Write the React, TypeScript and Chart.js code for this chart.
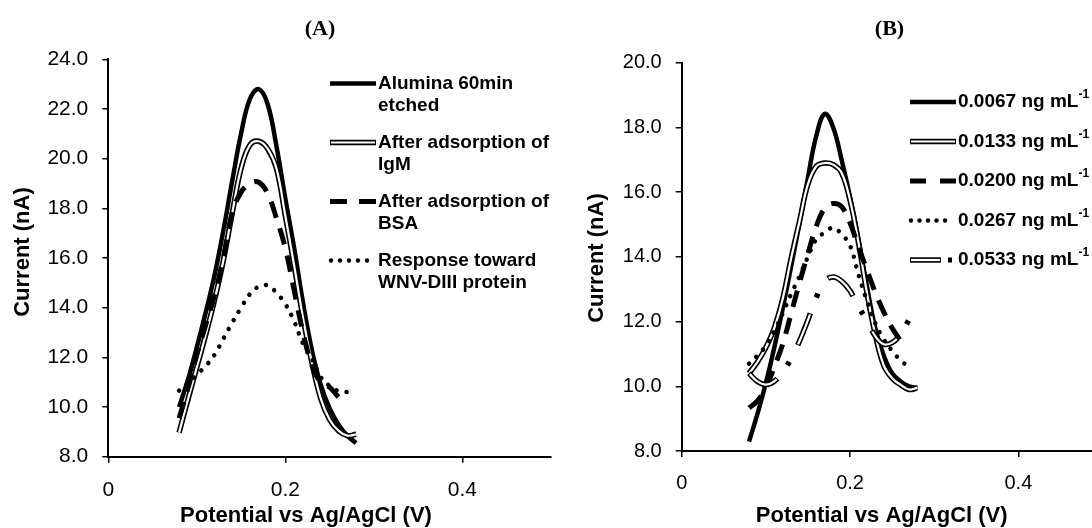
import React, { useEffect, useRef } from 'react';
import { Chart, registerables } from 'chart.js';

Chart.register(...registerables);

// ---------- Panel (A) data ----------
const potentialA = [0.08, 0.09, 0.10, 0.11, 0.12, 0.13, 0.14, 0.15, 0.16, 0.17, 0.18, 0.19, 0.20, 0.21, 0.22, 0.23, 0.24, 0.25, 0.26, 0.27, 0.28];
const aluminaEtched = [10.0, 11.1, 12.4, 13.8, 15.3, 17.1, 19.1, 21.0, 22.4, 22.8, 22.2, 20.5, 18.4, 16.4, 14.2, 12.3, 10.9, 9.95, 9.3, 8.85, 8.55];
const afterIgM = [8.97, 10.3, 11.6, 12.9, 14.3, 15.9, 17.8, 19.6, 20.55, 20.7, 20.4, 19.6, 17.7, 15.7, 13.6, 11.8, 10.35, 9.5, 9.05, 8.85, 8.9];
const afterBSA = [9.55, 10.75, 12.1, 13.3, 14.5, 16.0, 17.8, 18.65, 19.0, 19.05, 18.6, 17.6, 16.4, 14.7, 13.0, 11.7, 11.0, 10.8, 10.4];
const wnvResponse = [10.66, 10.95, 11.3, 11.65, 12.1, 12.75, 13.4, 14.0, 14.55, 14.85, 14.9, 14.6, 14.15, 13.45, 12.55, 11.95, 11.2, 10.85, 10.65, 10.6];

// ---------- Panel (B) data ----------
const potentialB = [0.08, 0.09, 0.10, 0.11, 0.12, 0.13, 0.14, 0.15, 0.16, 0.17, 0.18, 0.19, 0.20, 0.21, 0.22, 0.23, 0.24, 0.25, 0.26, 0.27, 0.28];
const conc0067 = [8.29, 9.15, 10.1, 11.2, 12.4, 13.7, 15.05, 16.45, 17.75, 18.42, 18.0, 17.0, 15.85, 14.55, 13.1, 11.8, 10.95, 10.4, 10.15, 10.0, 9.95];
const conc0133 = [10.4, 10.75, 11.2, 11.8, 12.7, 13.95, 15.1, 16.25, 16.8, 16.9, 16.85, 16.6, 15.75, 14.45, 12.9, 11.6, 10.65, 10.25, 10.05, 9.9, 9.95];
const conc0200 = [9.33, 9.55, 9.95, 10.6, 11.3, 12.25, 13.2, 14.1, 14.95, 15.5, 15.65, 15.55, 15.05, 14.3, 13.6, 12.9, 12.3, 11.8, 11.4];
const conc0267 = [10.7, 10.95, 11.25, 11.7, 12.25, 12.85, 13.4, 14.0, 14.55, 14.75, 14.9, 14.7, 14.35, 13.45, 12.65, 11.95, 11.45, 11.1, 10.8, 10.6];
const conc0533 = [10.4, 10.15, 10.05, 10.15, 10.45, 10.85, 11.4, 12.05, 12.75, 13.25, 13.38, 13.25, 12.95, 12.45, 12.05, 11.55, 11.3, 11.35, 11.6, 12.05, 12.5];

// ---------- Axis / labels ----------
const xTickValues = [0, 0.2, 0.4];
const xAxisTitle = 'Potential vs Ag/AgCl (V)';
const yAxisTitle = 'Current (nA)';
const titleA = '(A)';
const titleB = '(B)';
const legendA = [
  ['Alumina 60min', 'etched'],
  ['After adsorption of', 'IgM'],
  ['After adsorption of', 'BSA'],
  ['Response toward', 'WNV-DIII protein'],
];
const legendB = ['0.0067 ng mL', '0.0133 ng mL', '0.0200 ng mL', '0.0267 ng mL', '0.0533 ng mL'];
const legendBSup = '-1';

const FONT = '"Liberation Sans", Arial, sans-serif';

function pts(xs: number[], ys: number[]) {
  return ys.map((y, i) => ({ x: xs[i], y }));
}

function solid(data: any[], order: number) {
  return { data, borderColor: '#000', borderWidth: 4.5, pointRadius: 0, tension: 0.4, fill: false, order };
}
function doubleLine(data: any[], order: number) {
  return [
    { data, borderColor: '#000', borderWidth: 5.5, pointRadius: 0, tension: 0.4, fill: false, order },
    { data, borderColor: '#fff', borderWidth: 2.2, pointRadius: 0, tension: 0.4, fill: false, order: order - 1 },
  ];
}
function dashed(data: any[], order: number) {
  return { data, borderColor: '#000', borderWidth: 5, borderDash: [17, 11], pointRadius: 0, tension: 0.4, fill: false, order };
}
function dotted(data: any[], order: number) {
  return { data, borderColor: '#000', borderWidth: 4.5, borderDash: [0.01, 10], borderCapStyle: 'round', pointRadius: 0, tension: 0.4, fill: false, order };
}
function hollowDashDot(data: any[], order: number) {
  return [
    { data, borderColor: '#000', borderWidth: 5.5, borderDash: [34, 17, 4, 18.6], pointRadius: 0, tension: 0.4, fill: false, order },
    { data, borderColor: '#fff', borderWidth: 2.2, borderDash: [32, 41.6], borderDashOffset: -1, pointRadius: 0, tension: 0.4, fill: false, order: order - 1 },
  ];
}

function hline(ctx: CanvasRenderingContext2D, x0: number, x1: number, y: number) {
  ctx.beginPath();
  ctx.moveTo(x0, y);
  ctx.lineTo(x1, y);
  ctx.stroke();
}

function drawSample(ctx: CanvasRenderingContext2D, style: string, x0: number, x1: number, y: number, dash: number[], dotGap: number) {
  ctx.save();
  ctx.strokeStyle = '#000';
  ctx.fillStyle = '#000';
  ctx.lineCap = 'butt';
  if (style === 'solid') {
    ctx.lineWidth = 4.5;
    hline(ctx, x0, x1, y);
  } else if (style === 'double') {
    ctx.lineWidth = 5.5;
    hline(ctx, x0, x1, y);
    ctx.strokeStyle = '#fff';
    ctx.lineWidth = 2.2;
    hline(ctx, x0 + 1, x1 - 1, y);
  } else if (style === 'dash') {
    ctx.lineWidth = 5;
    ctx.setLineDash(dash);
    hline(ctx, x0, x1, y);
  } else if (style === 'dot') {
    for (let i = 0; i < 5; i++) {
      ctx.beginPath();
      ctx.arc(x0 + 1 + i * dotGap, y, 2.2, 0, Math.PI * 2);
      ctx.fill();
    }
  } else if (style === 'hollowDashDot') {
    ctx.lineWidth = 5.5;
    hline(ctx, x0, x0 + 31, y);
    ctx.strokeStyle = '#fff';
    ctx.lineWidth = 2.2;
    hline(ctx, x0 + 1, x0 + 30, y);
    ctx.fillStyle = '#000';
    ctx.fillRect(x0 + 38, y - 2.5, 4, 5);
  }
  ctx.restore();
}

function drawText(ctx: CanvasRenderingContext2D, text: string, x: number, y: number, font: string, align: CanvasTextAlign, rotate = false) {
  ctx.save();
  ctx.font = font;
  ctx.fillStyle = '#000';
  ctx.textAlign = align;
  ctx.textBaseline = 'middle';
  ctx.translate(x, y);
  if (rotate) ctx.rotate(-Math.PI / 2);
  ctx.fillText(text, 0, 0);
  ctx.restore();
}

const decorA = {
  id: 'decorA',
  afterDraw(chart: any) {
    const ctx = chart.ctx as CanvasRenderingContext2D;
    drawText(ctx, titleA, 320, 29, 'bold 22px "Liberation Serif", "Times New Roman", serif', 'center');
    drawText(ctx, yAxisTitle, 22.5, 252, `bold 22px ${FONT}`, 'center', true);
    drawText(ctx, xAxisTitle, 306, 516, `bold 22px ${FONT}`, 'center');
    const styles = ['solid', 'double', 'dash', 'dot'];
    const rows = [83.5, 142.5, 201.5, 260.5];
    legendA.forEach((lines, i) => {
      drawSample(ctx, styles[i], 330, 376, rows[i], [17, 12], 9);
      lines.forEach((t, j) => drawText(ctx, t, 378, rows[i] + j * 22.5, `bold 19px ${FONT}`, 'left'));
    });
  },
};

const decorB = {
  id: 'decorB',
  afterDraw(chart: any) {
    const ctx = chart.ctx as CanvasRenderingContext2D;
    drawText(ctx, titleB, 344.5, 29, 'bold 22px "Liberation Serif", "Times New Roman", serif', 'center');
    drawText(ctx, yAxisTitle, 52, 258, `bold 22px ${FONT}`, 'center', true);
    drawText(ctx, xAxisTitle, 336.7, 516, `bold 22px ${FONT}`, 'center');
    const styles = ['solid', 'double', 'dash', 'dot', 'hollowDashDot'];
    const rows = [102, 141.5, 181, 220.5, 260];
    legendB.forEach((t, i) => {
      drawSample(ctx, styles[i], 365, 411, rows[i], [16, 14], 8.5);
      drawText(ctx, t, 413, rows[i], `bold 19px ${FONT}`, 'left');
      ctx.save();
      ctx.font = `bold 19px ${FONT}`;
      const w = ctx.measureText(t).width;
      ctx.restore();
      drawText(ctx, legendBSup, 413 + w, rows[i] - 7, `bold 12px ${FONT}`, 'left');
    });
  },
};

function axisOpts(min: number, max: number, size: number, font: number, pad: number, horizontal: boolean, stepSize?: number) {
  const o: any = {
    type: 'linear',
    min,
    max,
    position: horizontal ? 'bottom' : 'left',
    grid: { drawOnChartArea: false, drawTicks: true, tickLength: 6, color: '#000', lineWidth: 1.5 },
    border: { display: true, color: '#000', width: 2 },
    ticks: {
      color: '#000',
      font: { family: FONT, size: font },
      padding: pad,
      maxRotation: 0,
      autoSkip: false,
      callback: (v: number) => (horizontal ? (v === 0 ? '0' : Number(v).toFixed(1)) : Number(v).toFixed(1)),
    },
    afterFit: (s: any) => {
      if (horizontal) s.height = size;
      else s.width = size;
    },
  };
  if (horizontal) {
    o.afterBuildTicks = (s: any) => {
      s.ticks = xTickValues.map((v) => ({ value: v }));
    };
  } else {
    o.ticks.stepSize = stepSize;
  }
  return o;
}

function baseOptions(padding: any, x: any, y: any) {
  return {
    responsive: false,
    animation: false as const,
    devicePixelRatio: 1,
    events: [] as any[],
    layout: { padding },
    plugins: { legend: { display: false }, tooltip: { enabled: false }, title: { display: false } },
    scales: { x, y },
  };
}

export default function App() {
  const refA = useRef<HTMLCanvasElement>(null);
  const refB = useRef<HTMLCanvasElement>(null);

  useEffect(() => {
    const chartA = new Chart(refA.current!, {
      type: 'line',
      data: {
        datasets: [
          solid(pts(potentialA, aluminaEtched), 50),
          ...doubleLine(pts(potentialA, afterIgM), 40),
          dashed(pts(potentialA, afterBSA), 30),
          dotted(pts(potentialA, wnvResponse), 20),
        ] as any,
      },
      options: baseOptions(
        { left: 0, top: 59.3, right: 49.2, bottom: 0 },
        axisOpts(0, 0.5, 71.3, 21, 15, true),
        axisOpts(8, 24, 108.3, 21, 14, false, 2),
      ) as any,
      plugins: [decorA],
    });

    const chartB = new Chart(refB.current!, {
      type: 'line',
      data: {
        datasets: [
          solid(pts(potentialB, conc0067), 60),
          ...doubleLine(pts(potentialB, conc0133), 50),
          dashed(pts(potentialB, conc0200), 40),
          dotted(pts(potentialB, conc0267), 30),
          ...hollowDashDot(pts(potentialB, conc0533), 20),
        ] as any,
      },
      options: baseOptions(
        { left: 0, top: 62.7, right: 0, bottom: 0 },
        axisOpts(0, 0.4875, 77, 20, 14, true),
        axisOpts(8, 20, 136.7, 20, 14, false, 2),
      ) as any,
      plugins: [decorB],
    });

    return () => {
      chartA.destroy();
      chartB.destroy();
    };
  }, []);

  return (
    <div style={{ position: 'fixed', left: 0, top: 0, width: 1092, height: 528, overflow: 'hidden', background: '#fff' }}>
      <canvas ref={refB} width={547} height={528} style={{ position: 'absolute', left: 545, top: 0 }} />
      <canvas ref={refA} width={600} height={528} style={{ position: 'absolute', left: 0, top: 0 }} />
    </div>
  );
}
